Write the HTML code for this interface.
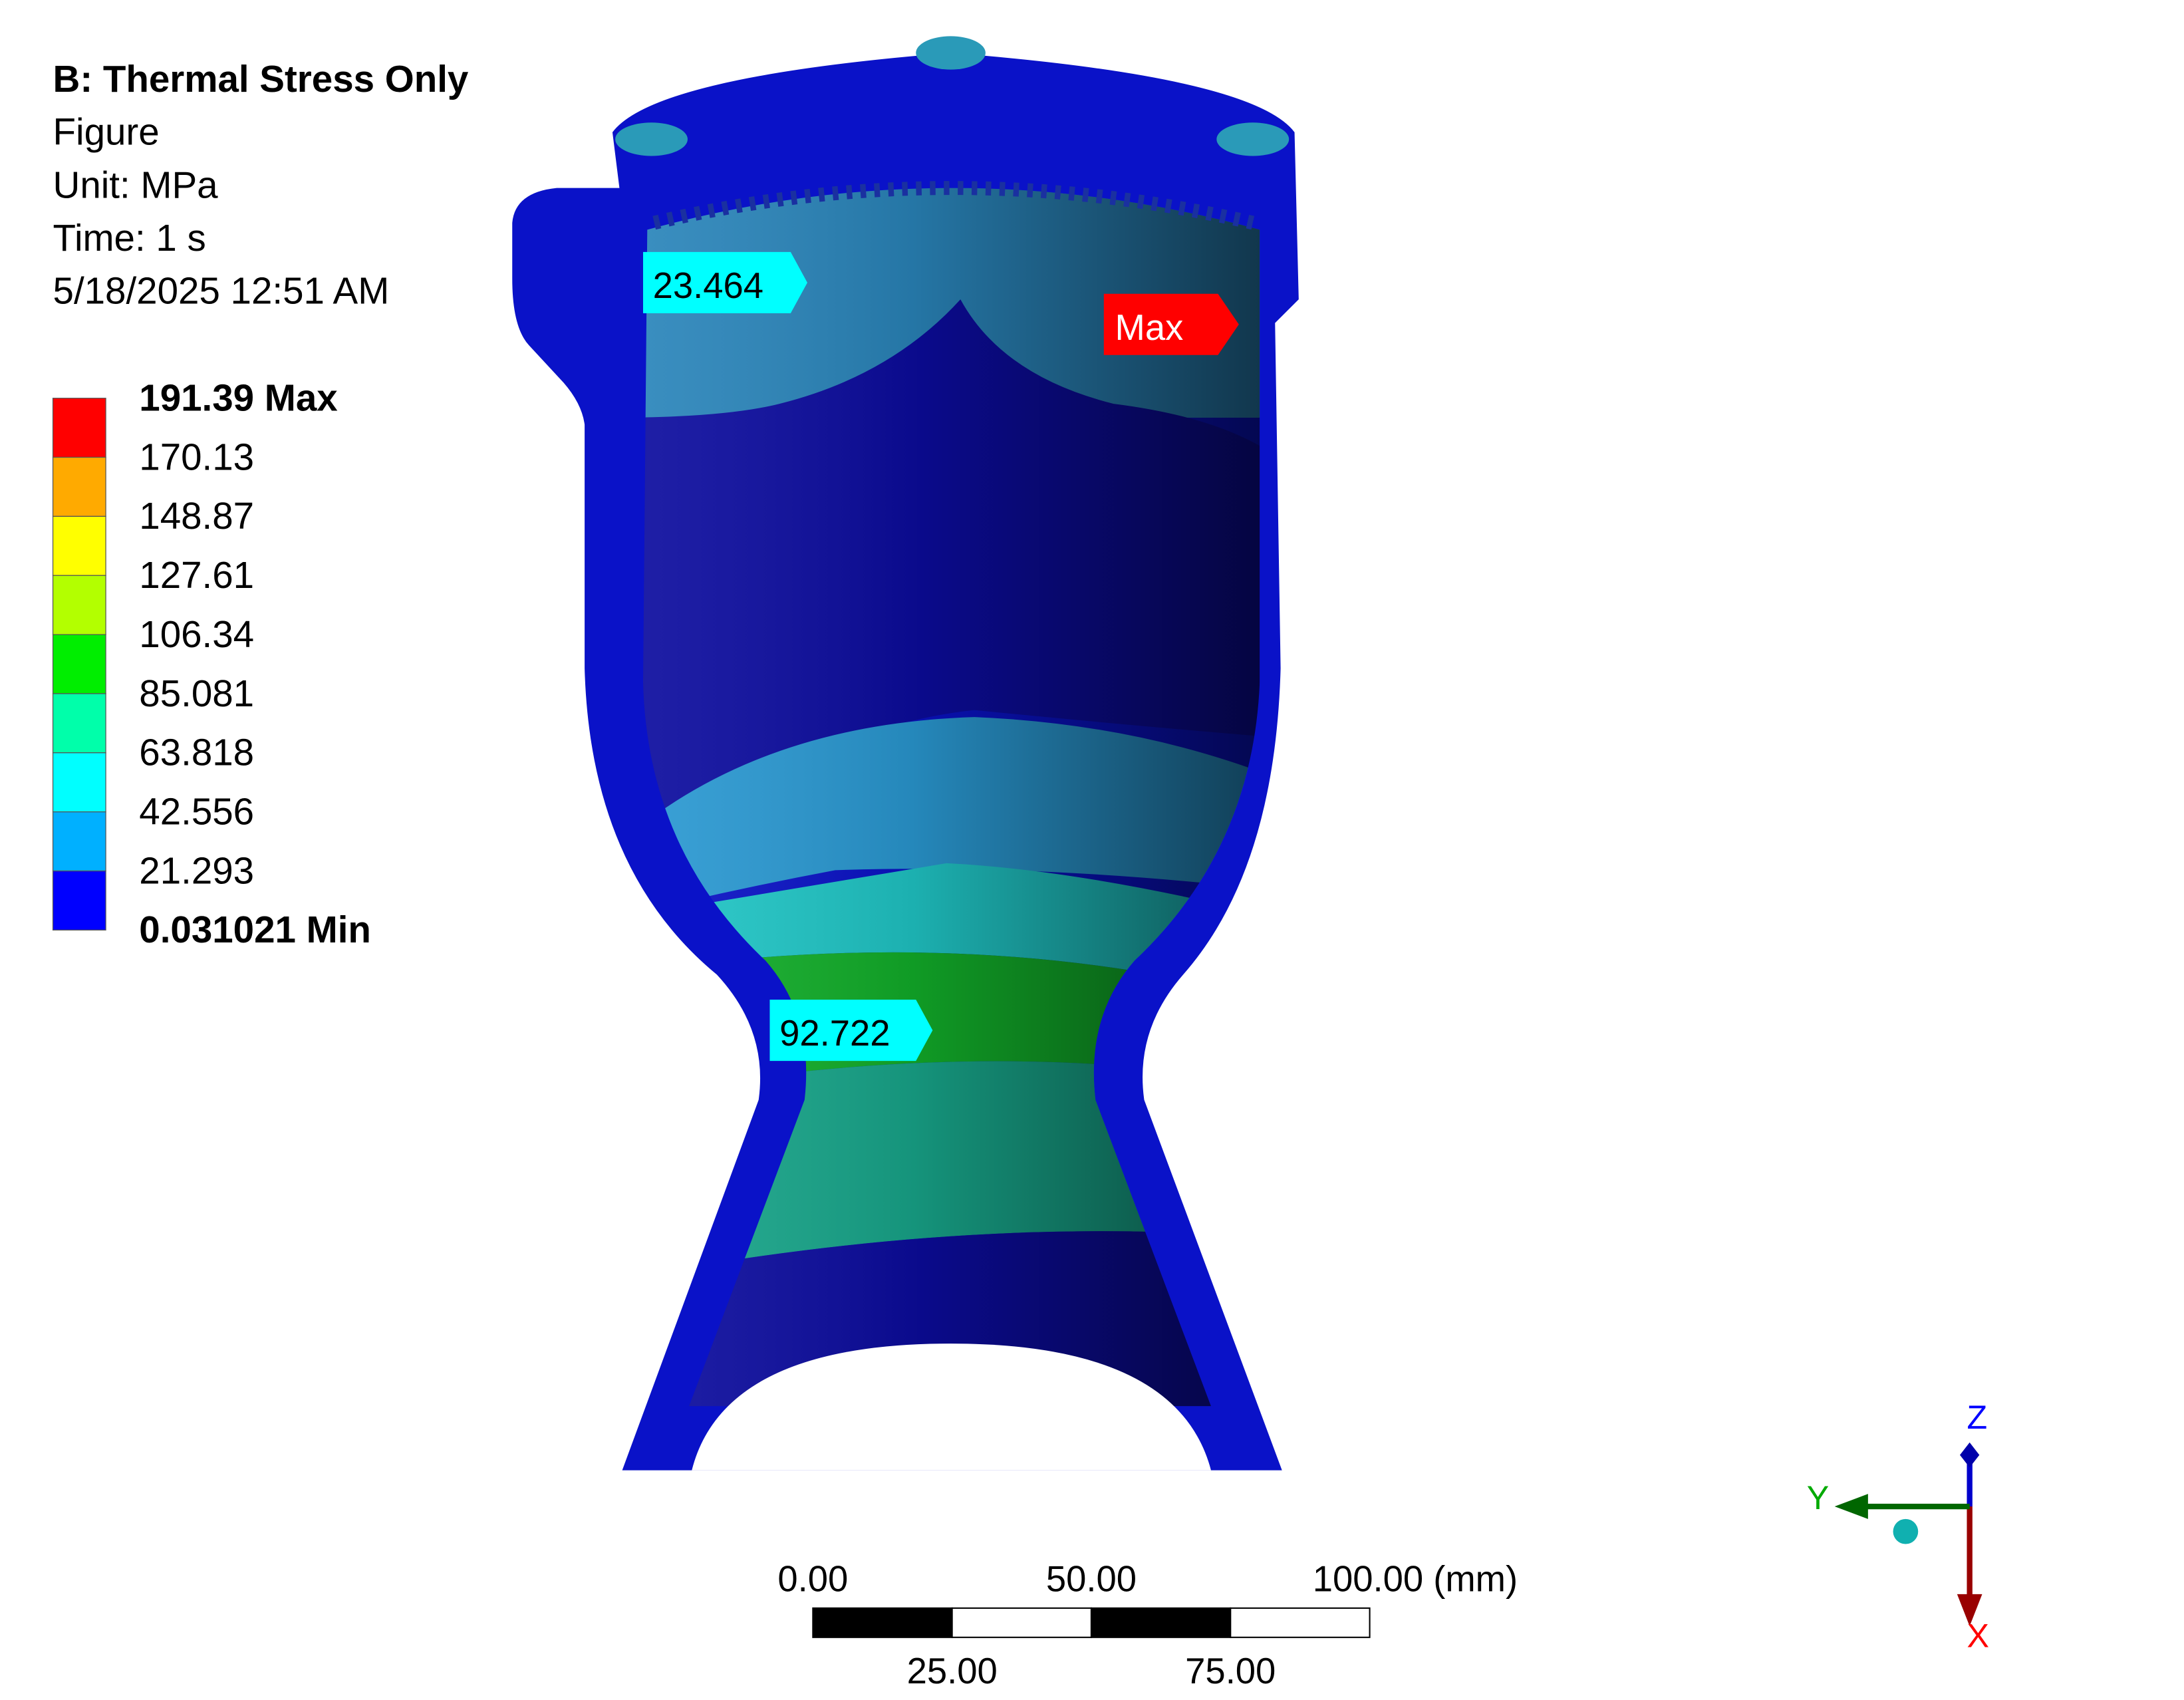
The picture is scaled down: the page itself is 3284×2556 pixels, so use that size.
<!DOCTYPE html>
<html><head><meta charset="utf-8"><style>
html,body{margin:0;padding:0;background:#fff;}
svg{display:block;}
text{font-family:"Liberation Sans",sans-serif;}
</style></head><body>
<svg id="chart" xmlns="http://www.w3.org/2000/svg" width="3284" height="2556" viewBox="0 0 1569 1221" preserveAspectRatio="none">
<defs>
<linearGradient id="shade" x1="0" x2="1" y1="0" y2="0">
<stop offset="0" stop-color="#fff" stop-opacity="0.08"/>
<stop offset="0.45" stop-color="#000" stop-opacity="0.12"/>
<stop offset="1" stop-color="#000" stop-opacity="0.62"/>
</linearGradient>
<clipPath id="innerClip"><path d="M465 165 Q683 105 905 165 L905 490 Q900 610 815 690 Q780 730 787 790 L870 1010 L495 1010 L578 790 Q585 730 550 690 Q465 610 462 490 Z"/></clipPath>
</defs>
<g font-size="27" fill="#000">
<text x="38" y="66" font-weight="bold">B: Thermal Stress Only</text>
<text x="38" y="104">Figure</text>
<text x="38" y="142">Unit: MPa</text>
<text x="38" y="180">Time: 1 s</text>
<text x="38" y="218">5/18/2025 12:51 AM</text>
</g>
<g id="legend"></g>

<g>
<path fill="#0a12c8" d="M440 95 Q470 55 683 38 Q900 55 930 95 L933 215 L916 232 L920 480 Q916 625 850 700 Q815 740 822 790 L921 1056 L447 1056 L545 790 Q552 740 515 700 Q424 625 420 480 L420 305 Q418 290 405 275 L380 248 Q368 235 368 200 L368 160 Q370 138 400 135 L445 135 Z"/>
<ellipse cx="683" cy="38" rx="25" ry="12" fill="#2a9ab8"/>
<ellipse cx="468" cy="100" rx="26" ry="12" fill="#2a9ab8"/>
<ellipse cx="900" cy="100" rx="26" ry="12" fill="#2a9ab8"/>
<g clip-path="url(#innerClip)">
<rect x="440" y="100" width="480" height="200" fill="#2a86bc"/>
<path d="M440 300 Q520 300 560 290 Q640 270 690 215 Q720 270 800 290 Q880 300 920 330 L920 530 Q800 520 700 510 Q600 520 440 610 Z" fill="#0c0ca0"/>
<path d="M440 610 Q540 520 700 515 Q820 520 920 560 L920 640 Q750 620 600 625 Q520 640 440 660 Z" fill="#2a9ad4"/>
<path d="M440 660 Q560 640 680 620 Q780 625 920 660 L920 720 Q700 660 440 700 Z" fill="#20c8c8"/>
<path d="M440 700 Q700 660 920 720 L920 780 Q700 740 440 790 Z" fill="#12b02a"/>
<path d="M440 790 Q700 740 920 780 L920 890 Q700 870 440 920 Z" fill="#18a88c"/>
<path d="M440 920 Q700 870 920 890 L920 1020 L440 1020 Z" fill="#0c0ca0"/>
<rect x="440" y="100" width="480" height="930" fill="url(#shade)"/>
</g>
<path d="M470 160 Q683 110 900 160" fill="none" stroke="#1a30a0" stroke-width="10" stroke-dasharray="4 6"/>
<path d="M497 1056 Q520 965 683 965 Q846 965 870 1056 Z" fill="#fff"/>
</g>

<g>
<path d="M462 181 L568 181 L580 203 L568 225 L462 225 Z" fill="#00ffff"/>
<text x="469" y="214" font-size="26">23.464</text>
</g>
<g>
<path d="M793 211 L875 211 L890 233 L875 255 L793 255 Z" fill="#ff0000"/>
<text x="801" y="244" font-size="26" fill="#fff">Max</text>
</g>
<g>
<path d="M553 718 L658 718 L670 740 L658 762 L553 762 Z" fill="#00ffff"/>
<text x="560" y="751" font-size="26">92.722</text>
</g>

<g id="scalebar"></g>

<g>
<line x1="1415" y1="1045" x2="1415" y2="1082" stroke="#0000cc" stroke-width="4"/>
<path d="M1408 1045 L1415 1036 L1422 1045 L1415 1054 Z" fill="#0000aa"/>
<line x1="1415" y1="1082" x2="1415" y2="1150" stroke="#990000" stroke-width="4"/>
<path d="M1406 1145 L1424 1145 L1415 1168 Z" fill="#990000"/>
<line x1="1340" y1="1082" x2="1415" y2="1082" stroke="#006600" stroke-width="4"/>
<path d="M1318 1082 L1342 1073 L1342 1091 Z" fill="#006600"/>
<circle cx="1369" cy="1100" r="9" fill="#10b0b0"/>
<text x="1413" y="1026" font-size="24" fill="#0000ff">Z</text>
<text x="1298" y="1084" font-size="24" fill="#00aa00">Y</text>
<text x="1413" y="1183" font-size="24" fill="#ff0000">X</text>
</g>
</svg>
<script>
const legendValues = ["191.39 Max","170.13","148.87","127.61","106.34","85.081","63.818","42.556","21.293","0.031021 Min"];
const legendColors = ["#ff0000","#ffaa00","#ffff00","#b3ff00","#00ee00","#00ffaa","#00ffff","#00b0ff","#0000ff"];
const scaleTopLabels = ["0.00","50.00","100.00 (mm)"];
const scaleBottomLabels = ["25.00","75.00"];
const NS = "http://www.w3.org/2000/svg";
const lg = document.getElementById("legend");
const top0 = 286, bot0 = 668, step = (bot0 - top0) / legendColors.length;
legendColors.forEach((c, i) => {
  const r = document.createElementNS(NS, "rect");
  r.setAttribute("x", 38); r.setAttribute("y", top0 + i * step);
  r.setAttribute("width", 38); r.setAttribute("height", step);
  r.setAttribute("fill", c); r.setAttribute("stroke", "#555"); r.setAttribute("stroke-width", "0.6");
  
  
  lg.appendChild(r);
});
legendValues.forEach((v, i) => {
  const t = document.createElementNS(NS, "text");
  t.setAttribute("x", 100); t.setAttribute("y", top0 + i * step + 9);
  t.setAttribute("font-size", 27);
  if (i === 0 || i === legendValues.length - 1) t.setAttribute("font-weight", "bold");
  t.textContent = v;
  
  
  lg.appendChild(t);
});
const sb = document.getElementById("scalebar");
const sx = 584, sw = 100, sy = 1155, sh = 21;
for (let i = 0; i < 4; i++) {
  const r = document.createElementNS(NS, "rect");
  r.setAttribute("x", sx + i * sw); r.setAttribute("y", sy);
  r.setAttribute("width", sw); r.setAttribute("height", sh);
  r.setAttribute("fill", i % 2 === 0 ? "#000" : "#fff"); r.setAttribute("stroke", "#000"); r.setAttribute("stroke-width", "1");
  
  
  sb.appendChild(r);
}
scaleTopLabels.forEach((v, i) => {
  const t = document.createElementNS(NS, "text");
  t.setAttribute("x", sx + i * 2 * sw); t.setAttribute("y", 1143);
  t.setAttribute("font-size", 26);
  t.setAttribute("text-anchor", i === 2 ? "start" : "middle");
  if (i === 2) t.setAttribute("x", sx + 4 * sw - 41);
  t.textContent = v;
  
  
  sb.appendChild(t);
});
scaleBottomLabels.forEach((v, i) => {
  const t = document.createElementNS(NS, "text");
  t.setAttribute("x", sx + sw + i * 2 * sw); t.setAttribute("y", 1209);
  t.setAttribute("font-size", 26); t.setAttribute("text-anchor", "middle");
  t.textContent = v;
  
  
  sb.appendChild(t);
});
</script>
</body></html>
